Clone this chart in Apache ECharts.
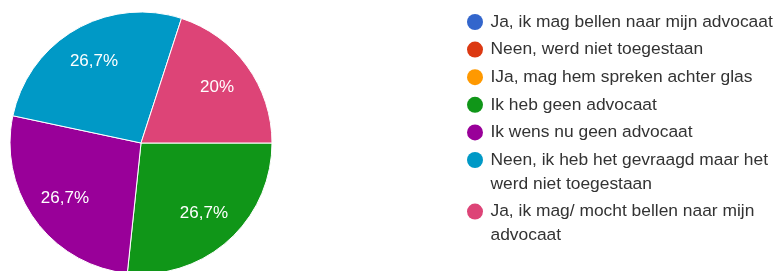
<!DOCTYPE html>
<html>
<head>
<meta charset="utf-8">
<script src="https://cdn.jsdelivr.net/npm/echarts@6/dist/echarts.min.js"></script>
<style>
  html, body { margin: 0; padding: 0; background: #fff; }
  #chart { width: 779px; height: 271px; }
</style>
</head>
<body>
<div id="chart"></div>
<script>
// antwoorden (volgorde zoals in de legende)
const categories = [
  'Ja, ik mag bellen naar mijn advocaat',
  'Neen, werd niet toegestaan',
  'IJa, mag hem spreken achter glas',
  'Ik heb geen advocaat',
  'Ik wens nu geen advocaat',
  'Neen, ik heb het gevraagd maar het werd niet toegestaan',
  'Ja, ik mag/ mocht bellen naar mijn advocaat'
]
const responses = [0, 0, 0, 4, 4, 4, 3]
const sliceColors = ['#3366cc', '#dc3912', '#ff9900', '#109618', '#990099', '#0099c6', '#dd4477']

const FONT = 'Liberation Sans, Arial, sans-serif'
const LEGEND_FONT_SIZE = 17.4
const LEGEND_WRAP = 300
const LINE_H = 24
const ITEM_GAP = 3.6

const total = responses.reduce((a, b) => a + b, 0)
const pieData = categories.map((name, i) => ({
  name: name,
  value: responses[i],
  itemStyle: { color: sliceColors[i] }
}))

const pct = (v) => {
  if (!v) return ''
  return String(parseFloat((v / total * 100).toFixed(1))).replace('.', ',') + '%'
}

// elke legende-regel apart, zodat het bolletje naast de eerste regel staat bij afgebroken tekst
const ctx = document.createElement('canvas').getContext('2d')
ctx.font = LEGEND_FONT_SIZE + 'px ' + FONT
let lineCenter = 22
const legends = categories.map((name) => {
  const n = Math.max(1, Math.ceil(ctx.measureText(name).width / LEGEND_WRAP))
  const lg = {
    orient: 'vertical',
    left: 467,
    top: lineCenter - LINE_H / 2 - (n - 1) * LINE_H,
    padding: 0,
    icon: 'circle',
    itemWidth: 21,
    itemHeight: 16,
    selectedMode: false,
    itemStyle: { borderWidth: 0 },
    data: [name],
    formatter: (nm) => '\n'.repeat(n - 1) + nm,
    textStyle: {
      fontFamily: FONT,
      fontSize: LEGEND_FONT_SIZE,
      color: '#333',
      lineHeight: LINE_H,
      width: LEGEND_WRAP,
      overflow: 'break'
    }
  }
  lineCenter += n * LINE_H + ITEM_GAP
  return lg
})

let myChart = echarts.init(document.getElementById('chart'))
myChart.setOption({
  backgroundColor: '#fff',
  animation: false,
  textStyle: { fontFamily: FONT },
  legend: legends,
  series: [{
    name: 'antwoorden',
    type: 'pie',
    center: [141, 143],
    radius: 131,
    startAngle: 0,
    clockwise: true,
    data: pieData,
    label: { show: false },
    labelLine: { show: false },
    itemStyle: { borderColor: '#fff', borderWidth: 1 },
    emphasis: { disabled: true }
  }, {
    // alleen voor de percentages, iets verder naar buiten
    name: 'labels',
    type: 'pie',
    center: [141, 143],
    radius: [51, 131],
    startAngle: 0,
    clockwise: true,
    silent: true,
    data: pieData.map((d) => ({ name: d.name, value: d.value })),
    itemStyle: { color: 'rgba(0,0,0,0)' },
    label: {
      show: true,
      position: 'inside',
      color: '#fff',
      fontSize: 17,
      fontFamily: FONT,
      formatter: (p) => pct(p.value)
    },
    labelLine: { show: false },
    emphasis: { disabled: true }
  }]
})
</script>
</body>
</html>
